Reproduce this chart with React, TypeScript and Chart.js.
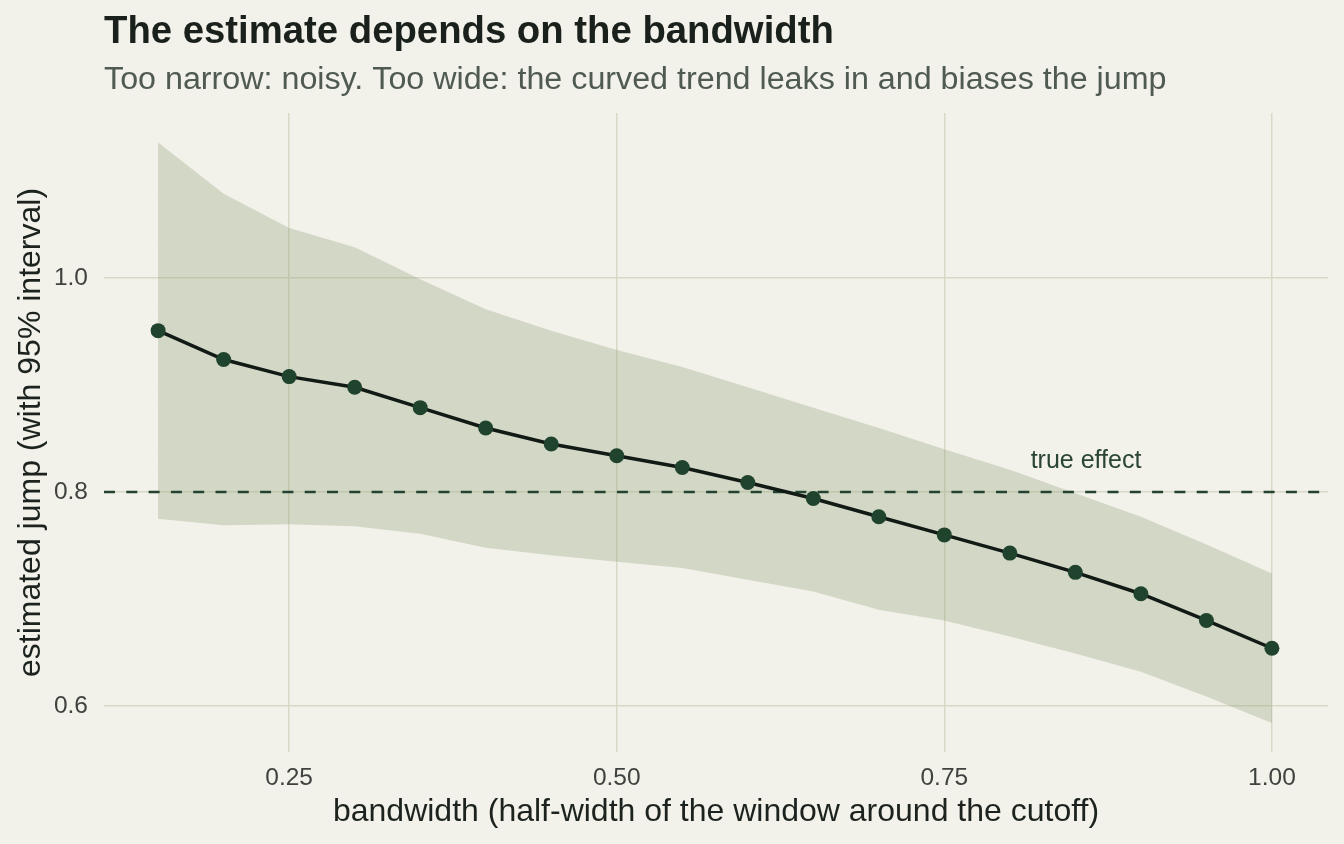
import React, { useEffect, useRef } from "react";
import { Chart, registerables } from "chart.js";

Chart.register(...registerables);

// Bandwidths (half-width of the window around the cutoff)
const bandwidths = [0.15, 0.2, 0.25, 0.3, 0.35, 0.4, 0.45, 0.5, 0.55, 0.6, 0.65, 0.7, 0.75, 0.8, 0.85, 0.9, 0.95, 1.0];

// Estimated jump at each bandwidth
const estimates = [0.951, 0.924, 0.908, 0.898, 0.879, 0.86, 0.845, 0.834, 0.823, 0.809, 0.794, 0.777, 0.76, 0.743, 0.725, 0.705, 0.68, 0.654];

// 95% interval bounds
const lowerCI = [0.775, 0.769, 0.77, 0.768, 0.761, 0.748, 0.741, 0.735, 0.729, 0.718, 0.707, 0.69, 0.68, 0.665, 0.649, 0.632, 0.609, 0.584];
const upperCI = [1.127, 1.079, 1.047, 1.029, 0.999, 0.971, 0.951, 0.933, 0.917, 0.898, 0.879, 0.86, 0.84, 0.821, 0.799, 0.777, 0.751, 0.724];

// Reference value of the true effect
const trueEffect = 0.8;

// Axis ticks
const xTicks = [0.25, 0.5, 0.75, 1.0];
const yTicks = [0.6, 0.8, 1.0];

const xRange = [0.1087, 1.0428];
const yRange = [0.557, 1.1545];

const BG = "#f2f1ea";
const FONT = "'Liberation Sans', Arial, Helvetica, sans-serif";

const labelsPlugin = {
  id: "textLayer",
  afterDraw(chart: any) {
    const { ctx, chartArea, scales } = chart;
    ctx.save();
    // Title and subtitle
    ctx.textAlign = "left";
    ctx.textBaseline = "alphabetic";
    ctx.fillStyle = "#1a201c";
    ctx.font = `bold 38.3px ${FONT}`;
    ctx.fillText("The estimate depends on the bandwidth", 104, 43);
    ctx.fillStyle = "#4f5a51";
    ctx.font = `32.25px ${FONT}`;
    ctx.fillText("Too narrow: noisy. Too wide: the curved trend leaks in and biases the jump", 104, 89);

    // Axis titles
    ctx.fillStyle = "#1c231e";
    ctx.font = `32px ${FONT}`;
    ctx.textAlign = "center";
    ctx.fillText("bandwidth (half-width of the window around the cutoff)", (chartArea.left + chartArea.right) / 2, 821);
    ctx.save();
    ctx.translate(39.5, (chartArea.top + chartArea.bottom) / 2);
    ctx.rotate(-Math.PI / 2);
    ctx.fillText("estimated jump (with 95% interval)", 0, 0);
    ctx.restore();

    // Label for the reference line
    ctx.fillStyle = "#2a4534";
    ctx.font = `25px ${FONT}`;
    ctx.textAlign = "center";
    const yLine = scales.y.getPixelForValue(trueEffect);
    ctx.fillText("true effect", 1086, yLine - 24);
    ctx.restore();
  },
};

export default function App() {
  const canvasRef = useRef<HTMLCanvasElement | null>(null);

  useEffect(() => {
    const canvas = canvasRef.current;
    if (!canvas) return;

    const estPts = bandwidths.map((x, i) => ({ x, y: estimates[i] }));
    const loPts = bandwidths.map((x, i) => ({ x, y: lowerCI[i] }));
    const hiPts = bandwidths.map((x, i) => ({ x, y: upperCI[i] }));
    const refPts = [
      { x: xRange[0], y: trueEffect },
      { x: xRange[1], y: trueEffect },
    ];

    const chart = new Chart(canvas, {
      type: "line",
      data: {
        datasets: [
          {
            label: "estimate",
            data: estPts,
            borderColor: "#121a15",
            borderWidth: 3.5,
            pointRadius: 7.5,
            pointBackgroundColor: "#1f432d",
            pointBorderWidth: 0,
            fill: false,
            order: 0,
          },
          {
            label: "true effect",
            data: refPts,
            borderColor: "#234330",
            borderWidth: 2.5,
            borderDash: [11, 11.3],
            pointRadius: 0,
            fill: false,
            order: 1,
          },
          {
            label: "upper",
            data: hiPts,
            borderWidth: 0,
            borderColor: "rgba(0,0,0,0)",
            pointRadius: 0,
            backgroundColor: "rgba(140,155,115,0.3)",
            fill: "+1",
            order: 2,
          },
          {
            label: "lower",
            data: loPts,
            borderWidth: 0,
            borderColor: "rgba(0,0,0,0)",
            pointRadius: 0,
            fill: false,
            order: 3,
          },
        ],
      },
      options: {
        responsive: false,
        animation: false,
        devicePixelRatio: 1,
        layout: { padding: { top: 113, right: 16, left: 0, bottom: 0 } },
        plugins: {
          legend: { display: false },
          tooltip: { enabled: false },
          title: { display: false },
        },
        scales: {
          x: {
            type: "linear",
            min: xRange[0],
            max: xRange[1],
            border: { display: false },
            grid: { color: "#d7d9c6", lineWidth: 1.5, drawTicks: false },
            afterBuildTicks: (scale: any) => {
              scale.ticks = xTicks.map((v) => ({ value: v }));
            },
            afterFit: (scale: any) => {
              scale.height = 92;
            },
            ticks: {
              padding: 12,
              color: "#3f423f",
              font: { family: FONT, size: 24.5 },
              callback: (v: any) => Number(v).toFixed(2),
              maxRotation: 0,
            },
          },
          y: {
            type: "linear",
            min: yRange[0],
            max: yRange[1],
            border: { display: false },
            grid: { color: "#d7d9c6", lineWidth: 1.5, drawTicks: false },
            afterBuildTicks: (scale: any) => {
              scale.ticks = yTicks.map((v) => ({ value: v }));
            },
            afterFit: (scale: any) => {
              scale.width = 104;
            },
            ticks: {
              padding: 16,
              color: "#3f423f",
              font: { family: FONT, size: 24.5 },
              callback: (v: any) => Number(v).toFixed(1),
            },
          },
        },
      },
      plugins: [labelsPlugin],
    });

    return () => chart.destroy();
  }, []);

  return (
    <div
      style={{
        position: "fixed",
        left: 0,
        top: 0,
        width: 1344,
        height: 844,
        background: BG,
      }}
    >
      <canvas ref={canvasRef} width={1344} height={844} style={{ display: "block", width: 1344, height: 844 }} />
    </div>
  );
}
